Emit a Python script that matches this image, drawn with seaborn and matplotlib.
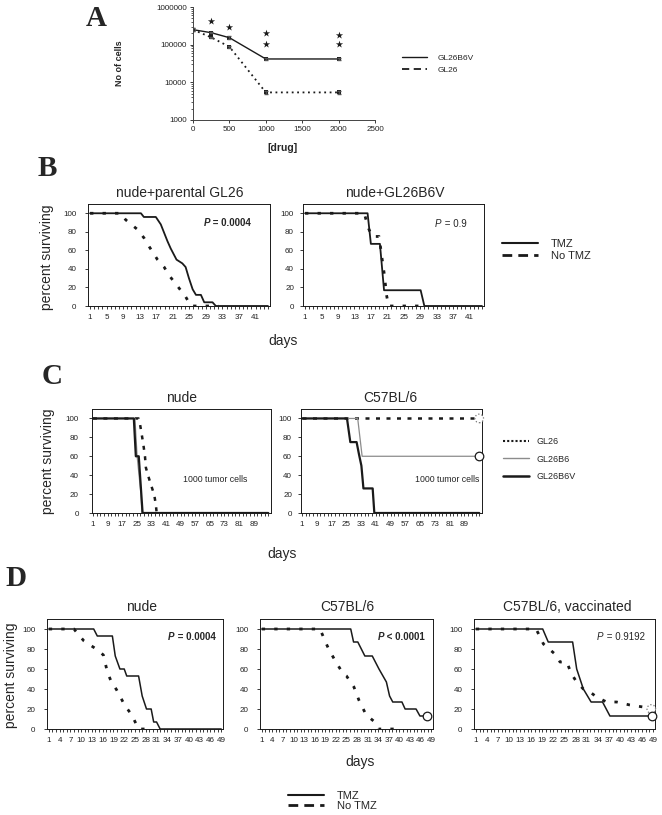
import matplotlib
matplotlib.use('Agg')
import matplotlib.pyplot as plt
from matplotlib.lines import Line2D
import seaborn as sns

# ---- A: cell counts vs drug dose ----
drug_conc = [0, 250, 500, 1000, 2000]
cells_gl26b6v = [250000, 208000, 153000, 41700, 41700]
cells_gl26 = [250000, 156000, 88000, 5400, 5400]
err_gl26b6v = [25000, 10000, 12000, 3500, 3500]
err_gl26 = [25000, 8000, 6000, 400, 400]
star_x = [250, 500, 1000, 1000, 2000, 2000]
star_y = [434000, 300000, 200000, 103000, 184000, 103000]

# ---- B: nude mice, TMZ vs no TMZ ----
b1_tmz_days = [1, 13.3, 14, 16.9, 18.1, 19.7, 20.5, 21.9, 23.3, 24.1, 24.9, 25.8, 26.6, 27.8, 28.6, 30.6, 31.4, 44]
b1_tmz_pct = [100, 100, 96, 96, 88, 70, 62, 50, 46, 42, 30, 18, 12, 12, 4, 4, 0, 0]
b1_ctrl_days = [1, 8.5, 9.6, 12.6, 14.1, 15.3, 17.3, 18.9, 20.1, 21.7, 24.1, 25.4, 32]
b1_ctrl_pct = [100, 100, 93, 82, 73, 64, 50, 42, 33, 24, 10, 0, 0]
b2_tmz_days = [1, 16.2, 17, 19.2, 20.2, 29.1, 30, 44]
b2_tmz_pct = [100, 100, 67, 67, 17, 17, 0, 0]
b2_ctrl_days = [1, 15.4, 16.3, 17.3, 19, 19.6, 20.3, 20.8, 21.3, 30]
b2_ctrl_pct = [100, 100, 85, 75, 75, 55, 33, 12, 0, 0]

# ---- C: 1000 tumor cells ----
c1_b6v_days = [1, 23.4, 24.5, 26.1, 28.2, 97]
c1_b6v_pct = [100, 100, 60, 60, 0, 0]
c1_b6_days = [1, 24, 25.2, 27.3, 27.8, 97]
c1_b6_pct = [100, 100, 60, 20, 0, 0]
c1_gl26_days = [1, 26, 26.7, 28.5, 29.5, 30, 31.3, 33.1, 34.6, 35.5, 35.9]
c1_gl26_pct = [100, 100, 95, 74, 60, 48, 39, 28, 19, 8, 0]
c2_b6v_days = [1, 25.4, 27.2, 30.6, 31.9, 33.2, 34.3, 39.3, 40.2, 97]
c2_b6v_pct = [100, 100, 75, 75, 62, 50, 26, 26, 0, 0]
c2_b6_days = [1, 31.2, 33.6, 97]
c2_b6_pct = [100, 100, 60, 60]
c2_gl26_days = [1, 97]
c2_gl26_pct = [100, 100]

# ---- D: TMZ in nude / C57BL/6 / vaccinated ----
d1_tmz_days = [1, 13.5, 14.5, 18.7, 19.5, 20.8, 22, 22.7, 26, 27, 28.2, 29.5, 30.2, 31, 32, 49]
d1_tmz_pct = [100, 100, 93, 93, 73, 60, 60, 53, 53, 33, 20, 20, 7, 7, 0, 0]
d1_ctrl_days = [1, 8, 9.1, 10.8, 14.2, 16.2, 17.3, 18.2, 19.9, 22.1, 24.1, 26, 30]
d1_ctrl_pct = [100, 100, 95, 88, 80, 74, 57, 49, 39, 24, 14, 0, 0]
d2_tmz_days = [1, 26.2, 27, 28.2, 30.2, 32.3, 34.2, 36.3, 37.2, 38.1, 40.7, 41.6, 44.7, 45.8, 47.7]
d2_tmz_pct = [100, 100, 87, 87, 73, 73, 60, 47, 33, 27, 27, 20, 20, 13, 13]
d2_ctrl_days = [1, 17.5, 19.3, 20.1, 22, 24.1, 25, 27.1, 28.5, 30.3, 31.3, 33, 34, 40]
d2_ctrl_pct = [100, 100, 85, 79, 67, 55, 53, 42, 29, 16, 12, 7, 0, 0]
d3_tmz_days = [1, 19.1, 20.6, 27.2, 28.3, 30.1, 32.2, 35.3, 37.3, 48.8]
d3_tmz_pct = [100, 100, 87, 87, 60, 40, 27, 27, 13, 13]
d3_ctrl_days = [1, 17.3, 18.4, 19.3, 22.4, 23.8, 25.6, 26.9, 28.3, 30.1, 31.9, 33.7, 36.4, 39.1, 42.7, 46.3, 48.5]
d3_ctrl_pct = [100, 100, 92, 85, 75, 67, 67, 55, 47, 40, 37, 32, 27, 27, 24, 22, 20]

sns.set_theme(style='ticks')
plt.rcParams['font.family'] = ['Liberation Sans', 'DejaVu Sans']

W, H = 662, 815
fig = plt.figure(figsize=(W / 100, H / 100), dpi=100)

DOT = (0, (1.2, 3.3))     # short dashes of the "No TMZ" curves
DASH = (0, (3.5, 2.2))    # legend dash


def add_ax(x0, y0, x1, y1):
    return fig.add_axes([x0 / W, 1 - y1 / H, (x1 - x0) / W, (y1 - y0) / H])


def ftext(x, y, s, **kw):
    fig.text(x / W, 1 - y / H, s, ha='center', va='center', **kw)


def km(ax, days, pct, **kw):
    sns.lineplot(x=days, y=pct, ax=ax, estimator=None, sort=False, **kw)


def style_surv(ax, xmax, major, minor, ypad=6):
    ax.set_xlim(0.5, xmax)
    ax.set_ylim(0, 110)
    ax.set_yticks([0, 20, 40, 60, 80, 100])
    ax.set_xticks(major)
    ax.set_xticks(minor, minor=True)
    ax.tick_params(axis='both', which='both', labelsize=5.8, width=0.6, length=2.5,
                   direction='out', color='k', labelcolor='#222222')
    ax.tick_params(axis='y', pad=ypad)
    ax.tick_params(axis='x', pad=3)
    for s in ax.spines.values():
        s.set_linewidth(0.7)
        s.set_color('k')
    ax.set_xlabel('')
    ax.set_ylabel('')


def pval(ax, x, y, rest, bold):
    w = 'bold' if bold else 'normal'
    ax.text(x, y, 'P', fontsize=7, style='italic', weight=w, ha='left', va='center')
    ax.annotate(rest, (x, y), xytext=(4.8, 0), textcoords='offset points',
                fontsize=7, weight=w, ha='left', va='center')


# ================= A =================
axA = add_ax(193, 7, 375, 120)
sns.lineplot(x=drug_conc, y=cells_gl26b6v, ax=axA, color='k', linewidth=1.0,
             marker='s', markersize=2.5, markeredgewidth=0)
sns.lineplot(x=drug_conc, y=cells_gl26, ax=axA, color='k', linewidth=1.3,
             linestyle=(0, (1, 2)), marker='s', markersize=2.5, markeredgewidth=0)
axA.errorbar(drug_conc, cells_gl26b6v, yerr=err_gl26b6v, fmt='none', ecolor='#555555',
             elinewidth=0.6, capsize=1.5)
axA.errorbar(drug_conc, cells_gl26, yerr=err_gl26, fmt='none', ecolor='#555555',
             elinewidth=0.6, capsize=1.5)
sns.scatterplot(x=star_x, y=star_y, ax=axA, marker='*', s=30, color='k', linewidth=0)
axA.set_yscale('log')
axA.set_ylim(1000, 1000000)
axA.set_xlim(0, 2500)
axA.set_xticks([0, 500, 1000, 1500, 2000, 2500])
axA.set_yticks([1000, 10000, 100000, 1000000])
axA.set_yticklabels(['1000', '10000', '100000', '1000000'])
axA.tick_params(axis='both', which='major', labelsize=5.8, width=0.6, length=2.5,
                direction='out', color='k', labelcolor='#222222', pad=2)
axA.tick_params(axis='y', which='minor', width=0.5, length=1.5, color='k')
sns.despine(ax=axA)
for s in axA.spines.values():
    s.set_linewidth(0.7)
    s.set_color('#444444')
axA.set_xlabel('')
axA.set_ylabel('')
ftext(119, 63, 'No of cells', fontsize=6.5, weight='bold', rotation=90)
ftext(283, 148, '[drug]', fontsize=7.5, weight='bold')
ftext(96, 18, 'A', fontsize=21, weight='bold', family='Liberation Serif')
fig.legend([Line2D([], [], color='k', lw=1.0),
            Line2D([], [], color='k', lw=1.3, ls=(0, (4, 2.5)))],
           ['GL26B6V', 'GL26'], loc='center left',
           bbox_to_anchor=(402 / W, 1 - 64 / H), frameon=False, fontsize=6,
           handlelength=3.0, handletextpad=1.3, labelspacing=0.45,
           borderpad=0, borderaxespad=0)

# ================= B =================
B_major = list(range(1, 42, 4))
B_minor = list(range(1, 45))
axB1 = add_ax(88, 204, 270, 306)
km(axB1, b1_tmz_days, b1_tmz_pct, color='k', linewidth=1.3)
km(axB1, b1_ctrl_days, b1_ctrl_pct, color='k', linewidth=2.0, linestyle=DOT)
style_surv(axB1, 44.5, B_major, B_minor)
pval(axB1, 28.5, 89, ' = 0.0004', True)

axB2 = add_ax(303, 204, 484, 306)
km(axB2, b2_tmz_days, b2_tmz_pct, color='k', linewidth=1.3)
km(axB2, b2_ctrl_days, b2_ctrl_pct, color='k', linewidth=2.0, linestyle=DOT)
style_surv(axB2, 44.5, B_major, B_minor, ypad=4)
pval(axB2, 32.6, 88, ' = 0.9', False)

ftext(47, 168, 'B', fontsize=21, weight='bold', family='Liberation Serif')
ftext(180, 193, 'nude+parental GL26', fontsize=10)
ftext(395, 193, 'nude+GL26B6V', fontsize=10)
ftext(47, 257, 'percent surviving', fontsize=10, rotation=90)
ftext(283, 341, 'days', fontsize=10)
fig.legend([Line2D([], [], color='k', lw=1.5),
            Line2D([], [], color='k', lw=2.0, ls=DASH)],
           ['TMZ', 'No TMZ'], loc='center left',
           bbox_to_anchor=(502 / W, 1 - 250 / H), frameon=False, fontsize=8,
           handlelength=3.2, handletextpad=1.2, labelspacing=0.2,
           borderpad=0, borderaxespad=0)

# ================= C =================
C_major = list(range(1, 90, 8))
C_minor = list(range(1, 99, 2))
GL26_DOT = (0, (1.6, 2.6))
axC1 = add_ax(92, 409, 271, 513)
km(axC1, c1_gl26_days, c1_gl26_pct, color='k', linewidth=1.8, linestyle=GL26_DOT)
km(axC1, c1_b6_days, c1_b6_pct, color='#8c8c8c', linewidth=0.9)
km(axC1, c1_b6v_days, c1_b6v_pct, color='k', linewidth=1.6)
style_surv(axC1, 98.5, C_major, C_minor, ypad=7)
axC1.text(50.5, 35, '1000 tumor cells', fontsize=6.3, ha='left', va='center')

axC2 = add_ax(301, 409, 482, 513)
km(axC2, c2_gl26_days, c2_gl26_pct, color='k', linewidth=1.8, linestyle=GL26_DOT)
km(axC2, c2_b6_days, c2_b6_pct, color='#8c8c8c', linewidth=0.9)
km(axC2, c2_b6v_days, c2_b6v_pct, color='k', linewidth=1.6)
sns.scatterplot(x=[c2_b6_days[-1]], y=[c2_b6_pct[-1]], ax=axC2, s=38, facecolor='white',
                edgecolor='k', linewidth=0.9, clip_on=False, zorder=5)
sns.scatterplot(x=[c2_gl26_days[-1]], y=[c2_gl26_pct[-1]], ax=axC2, s=38, facecolor='white',
                edgecolor='#777777', linewidth=0.9, linestyle=':', clip_on=False, zorder=5)
style_surv(axC2, 98.5, C_major, C_minor, ypad=4)
axC2.text(62, 35, '1000 tumor cells', fontsize=6.3, ha='left', va='center')

ftext(52, 376, 'C', fontsize=21, weight='bold', family='Liberation Serif')
ftext(182, 398, 'nude', fontsize=10)
ftext(390, 398, 'C57BL/6', fontsize=10)
ftext(48, 461, 'percent surviving', fontsize=10, rotation=90)
ftext(282, 554, 'days', fontsize=10)
fig.legend([Line2D([], [], color='k', lw=1.5, ls=(0, (1, 1))),
            Line2D([], [], color='#8c8c8c', lw=1.0),
            Line2D([], [], color='k', lw=1.8)],
           ['GL26', 'GL26B6', 'GL26B6V'], loc='center left',
           bbox_to_anchor=(503 / W, 1 - 459 / H), frameon=False, fontsize=6.5,
           handlelength=2.9, handletextpad=0.8, labelspacing=0.95,
           borderpad=0, borderaxespad=0)

# ================= D =================
D_major = list(range(1, 50, 3))
D_minor = list(range(1, 50))
axD1 = add_ax(47, 619, 223, 729)
km(axD1, d1_tmz_days, d1_tmz_pct, color='k', linewidth=1.1)
km(axD1, d1_ctrl_days, d1_ctrl_pct, color='k', linewidth=2.0, linestyle=DOT)
style_surv(axD1, 49.5, D_major, D_minor)
pval(axD1, 34.2, 92, ' = 0.0004', True)

axD2 = add_ax(260, 619, 433, 729)
km(axD2, d2_tmz_days, d2_tmz_pct, color='k', linewidth=1.1)
km(axD2, d2_ctrl_days, d2_ctrl_pct, color='k', linewidth=2.0, linestyle=DOT)
sns.scatterplot(x=[d2_tmz_days[-1]], y=[d2_tmz_pct[-1]], ax=axD2, s=38, facecolor='white',
                edgecolor='k', linewidth=0.9, clip_on=False, zorder=5)
style_surv(axD2, 49.5, D_major, D_minor)
pval(axD2, 33.8, 92, ' < 0.0001', True)

axD3 = add_ax(474, 619, 655, 729)
km(axD3, d3_tmz_days, d3_tmz_pct, color='k', linewidth=1.1)
km(axD3, d3_ctrl_days, d3_ctrl_pct, color='k', linewidth=2.0, linestyle=DOT)
sns.scatterplot(x=[d3_ctrl_days[-1]], y=[d3_ctrl_pct[-1]], ax=axD3, s=38, facecolor='white',
                edgecolor='#777777', linewidth=0.9, linestyle=':', clip_on=False, zorder=5)
sns.scatterplot(x=[d3_tmz_days[-1]], y=[d3_tmz_pct[-1]], ax=axD3, s=38, facecolor='white',
                edgecolor='k', linewidth=0.9, clip_on=False, zorder=6)
style_surv(axD3, 49.5, D_major, D_minor)
pval(axD3, 33.8, 92, ' = 0.9192', False)

ftext(16, 579, 'D', fontsize=21, weight='bold', family='Liberation Serif')
ftext(142, 607, 'nude', fontsize=10)
ftext(347, 607, 'C57BL/6', fontsize=10)
ftext(567, 607, 'C57BL/6, vaccinated', fontsize=10)
ftext(11, 675, 'percent surviving', fontsize=10, rotation=90)
ftext(360, 762, 'days', fontsize=10)
fig.legend([Line2D([], [], color='k', lw=1.5),
            Line2D([], [], color='k', lw=2.0, ls=DASH)],
           ['TMZ', 'No TMZ'], loc='center left',
           bbox_to_anchor=(288 / W, 1 - 801 / H), frameon=False, fontsize=8,
           handlelength=3.2, handletextpad=1.2, labelspacing=0.05,
           borderpad=0, borderaxespad=0)

fig.savefig('out.png', dpi=100)
plt.close(fig)
